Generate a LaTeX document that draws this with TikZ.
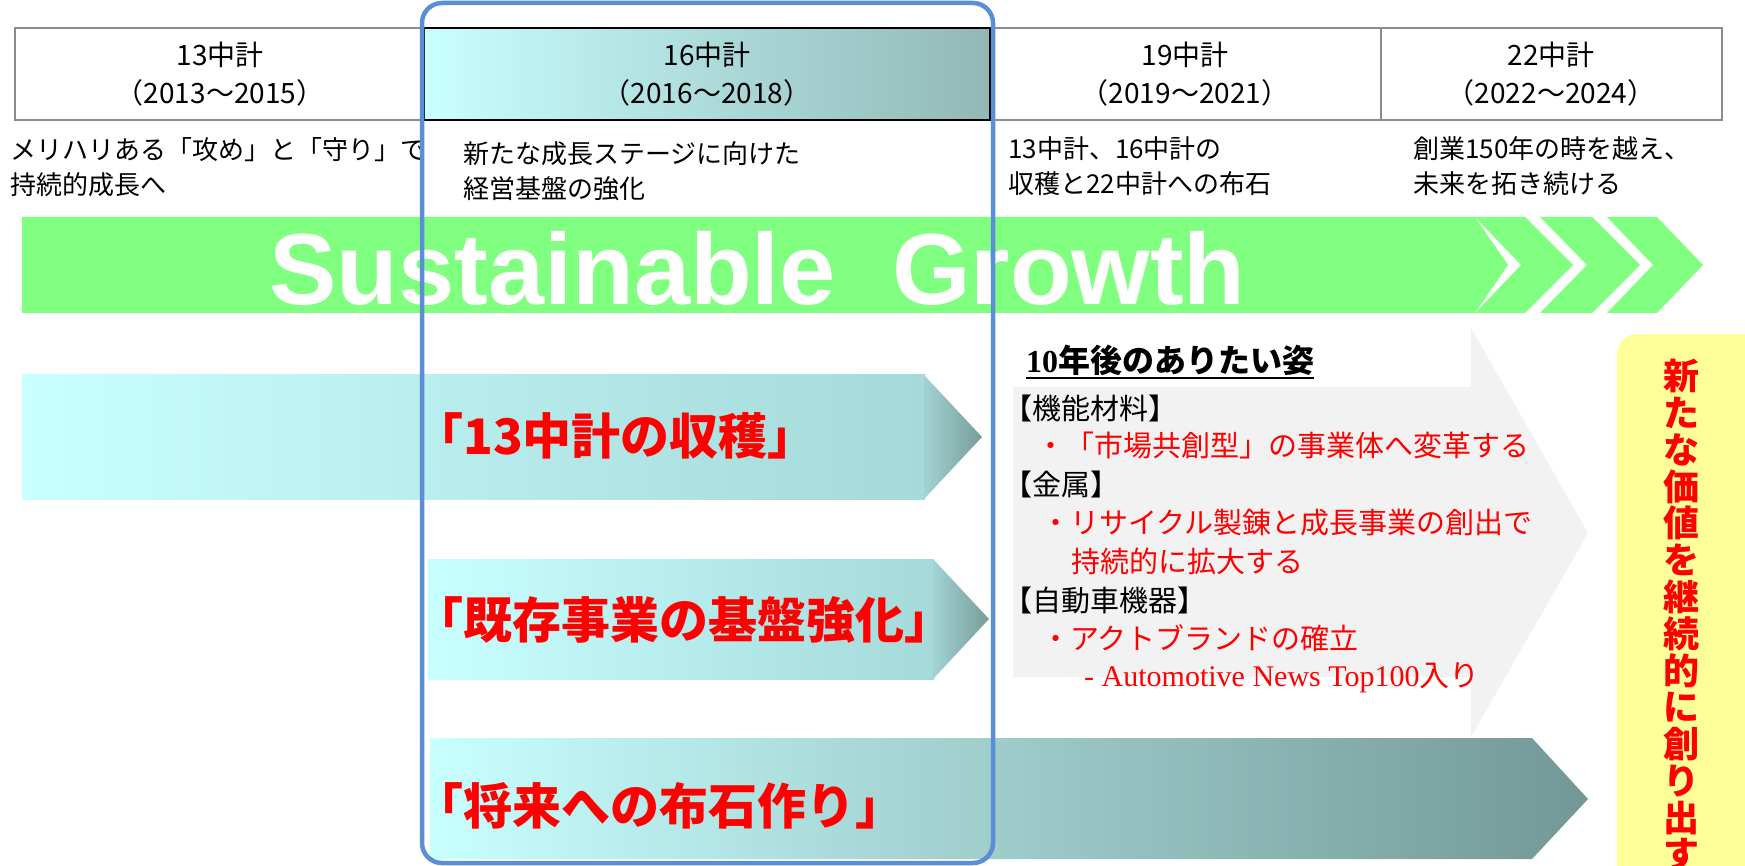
\documentclass[tikz,border=0pt]{standalone}
\usepackage{fontspec}
\setmainfont{Noto Sans CJK JP}
\newfontfamily\lsans{Liberation Sans}
\newfontfamily\lserif{Liberation Serif}
\definecolor{bandgreen}{HTML}{80FF80}
\definecolor{cyanL}{HTML}{C8FFFF}
\definecolor{tealM}{HTML}{A6D9D9}
\definecolor{tealH}{HTML}{A2D3D3}
\definecolor{tealD}{HTML}{769C99}
\definecolor{tealE}{HTML}{729896}
\definecolor{hdrteal}{HTML}{92B8B6}
\definecolor{greyF}{HTML}{F2F2F2}
\definecolor{yel}{HTML}{FFFF99}
\definecolor{bluebox}{HTML}{5A8ED6}
\definecolor{hdrgrey}{HTML}{8C8C8C}
\begin{document}
\begin{tikzpicture}[x=1pt,y=-1pt,
  hdr/.style={font=\fontsize{28}{30}\selectfont, inner sep=0},
  sub/.style={font=\fontsize{26}{34.5}\selectfont, align=left, anchor=west, inner sep=0},
  arrtxt/.style={font=\bfseries\fontsize{49}{52}\selectfont, text=red, anchor=west, inner sep=0},
  item/.style={font=\fontsize{29}{32}\selectfont, anchor=west, inner sep=0},
  reditem/.style={item, text=red},
  vch/.style={font=\bfseries\fontsize{36}{36}\selectfont, text=red, inner sep=0}]
\useasboundingbox (0,0) rectangle (1745,866);
\clip (0,0) rectangle (1745,866);
\fill[white] (0,0) rectangle (1745,866);

% header table
\draw[hdrgrey, line width=2] (15,28) rectangle (1722,120);
\draw[hdrgrey, line width=2] (1381,28) -- (1381,120);
\shade[left color=cyanL, right color=hdrteal] (424,28) rectangle (990,120);
\draw[black, line width=2] (424,28) rectangle (990,120);
\node[hdr] (h13a) at (220,55) {13中計};
\node[hdr] (h13b) at (220,93) {（2013～2015）};
\node[hdr] (h16a) at (707,55) {16中計};
\node[hdr] (h16b) at (707,93) {（2016～2018）};
\node[hdr] (h19a) at (1185,55) {19中計};
\node[hdr] (h19b) at (1185,93) {（2019～2021）};
\node[hdr] (h22a) at (1551,55) {22中計};
\node[hdr] (h22b) at (1551,93) {（2022～2024）};

% subtitles
\node[sub] (s13) at (10,167) {メリハリある「攻め」と「守り」で\\持続的成長へ};
\node[sub] (s16) at (463,171) {新たな成長ステージに向けた\\経営基盤の強化};
\node[sub] (s19) at (1008,166) {13中計、16中計の\\収穫と22中計への布石};
\node[sub] (s22) at (1413,166) {創業150年の時を越え、\\未来を拓き続ける};

% green band
\fill[bandgreen] (22,217) -- (1475,217) -- (1508,265) -- (1475,313) -- (22,313) -- cycle;
\fill[bandgreen] (1475,217) -- (1525,217) -- (1573,265) -- (1525,313) -- (1475,313) -- (1521,265) -- cycle;
\fill[bandgreen] (1540,217) -- (1592,217) -- (1640,265) -- (1592,313) -- (1540,313) -- (1587,265) -- cycle;
\fill[bandgreen] (1607,217) -- (1657,217) -- (1703,265) -- (1657,313) -- (1607,313) -- (1653,265) -- cycle;
\node[font=\lsans\bfseries\fontsize{101}{110}\selectfont, text=white, anchor=base west, inner sep=0] (sg) at (269,305) {Sustainable\ \ Growth};

% grey callout
\fill[greyF] (1013,387) -- (1471,387) -- (1471,328) -- (1588,533) -- (1471,737) -- (1471,677) -- (1013,677) -- cycle;

% yellow box
\fill[yel, rounded corners=20] (1617,334) rectangle (1800,920);

% arrows
\shade[left color=cyanL, right color=tealM] (22,375) rectangle (925,499);
\shade[left color=tealH, right color=tealD] (924,375) -- (982,437) -- (924,499) -- cycle;
\shade[left color=cyanL, right color=tealM] (428,559) rectangle (934,679);
\shade[left color=tealH, right color=tealD] (933,559) -- (989,619) -- (933,679) -- cycle;
\shade[left color=cyanL, right color=tealE] (430,738) -- (1532,738) -- (1588,799) -- (1532,859) -- (430,859) -- cycle;

\node[arrtxt] (a1) at (414,436) {「13中計の収穫」};
\node[arrtxt] (a2) at (414,620) {「既存事業の基盤強化」};
\node[arrtxt] (a3) at (414,806) {「将来への布石作り」};

% callout texts
\node[font=\bfseries\fontsize{32}{36}\selectfont, anchor=west, inner sep=0] (title) at (1026,360) {{\lserif\bfseries 10}年後のありたい姿};
\draw[line width=2] ([yshift=-2pt]title.south west) -- ([yshift=-2pt]title.south east);
\node[item] (k1) at (1003,408) {【機能材料】};
\node[reditem] (k1a) at (1036,445) {・「市場共創型」の事業体へ変革する};
\node[item] (k2) at (1003,484) {【金属】};
\node[reditem] (k2a) at (1041,523) {・リサイクル製錬と成長事業の創出で};
\node[reditem] (k2b) at (1071,561) {持続的に拡大する};
\node[item] (k3) at (1003,600) {【自動車機器】};
\node[reditem] (k3a) at (1041,638) {・アクトブランドの確立};
\node[font=\lserif\fontsize{30}{32}\selectfont, text=red, anchor=base west, inner sep=0] (k3b) at (1084,686) {- Automotive News Top100{\fontspec{Noto Sans CJK JP}入り}};

% vertical text
\foreach \c [count=\i from 0] in {新,た,な,価,値,を,継,続,的,に,創,り,出,す}
  \node[vch] (v\i) at ({1681},{376+36.8*\i}) {\c};

% blue frame
\draw[bluebox, line width=4.5, rounded corners=20] (422,3) rectangle (993,863);
\end{tikzpicture}
\end{document}
